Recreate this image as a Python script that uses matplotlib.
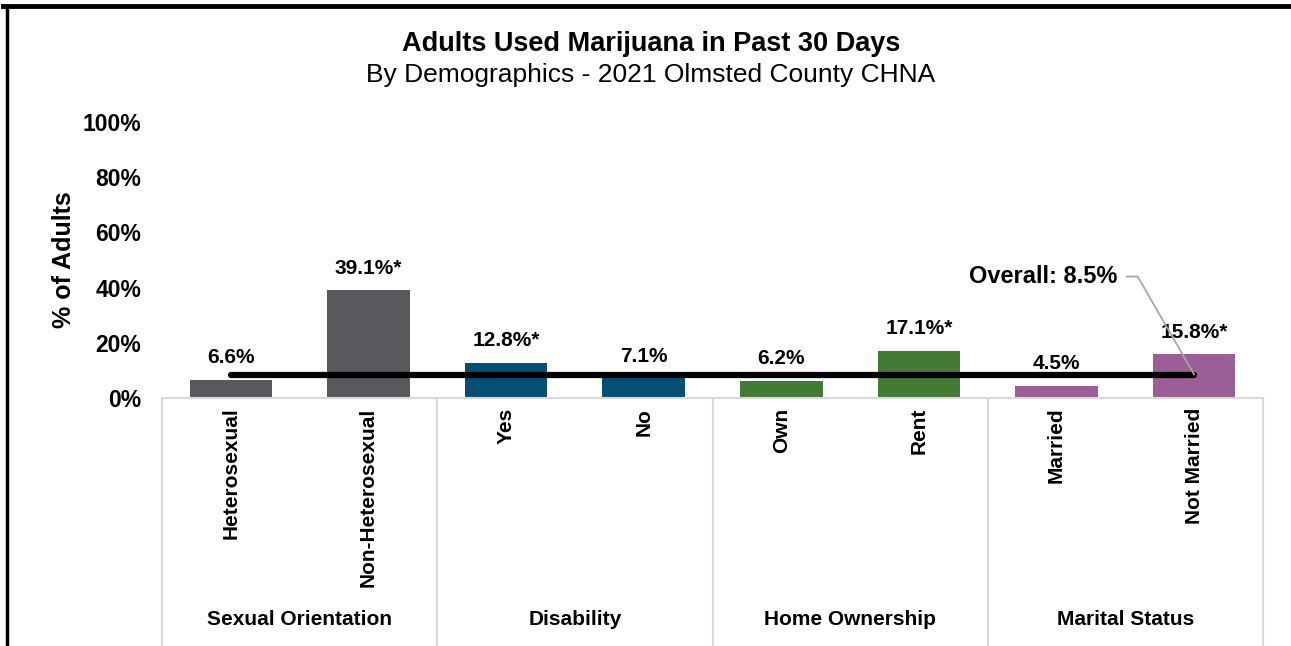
import numpy as np
import matplotlib.pyplot as plt
from matplotlib.lines import Line2D

plt.rcParams['font.family'] = ['Liberation Sans', 'DejaVu Sans']

# survey results, percent of adults
groups = ['Sexual Orientation', 'Disability', 'Home Ownership', 'Marital Status']
categories = ['Heterosexual', 'Non-Heterosexual', 'Yes', 'No',
              'Own', 'Rent', 'Married', 'Not Married']
values = [6.6, 39.1, 12.8, 7.1, 6.2, 17.1, 4.5, 15.8]
significant = [False, True, True, False, False, True, False, True]
overall = 8.5

group_colors = ['#59585d', '#054e74', '#437a36', '#9b5e96']
colors = [c for c in group_colors for _ in range(2)]

W, H = 1291, 646
fig = plt.figure(figsize=(W / 100, H / 100), dpi=100)
ax = fig.add_axes([162 / W, (H - 398) / H, (1263 - 162) / W, (398 - 122) / H])

x = np.arange(len(categories))
ax.bar(x, values, width=0.6, color=colors, zorder=2)

for xi, v, sig in zip(x, values, significant):
    label = f'{v:.1f}%' + ('*' if sig else '')
    ax.annotate(label, (xi, v), xytext=(0, 9), textcoords='offset points',
                ha='center', va='bottom', fontsize=15, fontweight='bold')

# overall rate line across all groups
ax.plot([x[0], x[-1]], [overall, overall], color='black', lw=4.5,
        solid_capstyle='round', zorder=3)
ax.annotate(f'Overall: {overall}%', xy=(x[-1], overall), xytext=(6.44, 44),
            ha='right', va='center', fontsize=17, fontweight='bold',
            arrowprops=dict(arrowstyle='-', color='#a6a6a6', lw=1.3,
                            shrinkA=5, shrinkB=0,
                            connectionstyle='angle,angleA=0,angleB=120,rad=0'))

ax.set_xlim(-0.5, len(categories) - 0.5)
ax.set_ylim(0, 100)
ax.set_yticks(np.arange(0, 101, 20))
ax.set_yticklabels([f'{t}%' for t in range(0, 101, 20)], fontsize=16.5, fontweight='bold')
ax.tick_params(axis='y', length=0, pad=15)
ax.set_xticks(x)
ax.set_xticklabels(categories, rotation=90, va='top', fontsize=15, fontweight='bold')
ax.tick_params(axis='x', length=0, pad=7)

for s in ['top', 'right', 'left']:
    ax.spines[s].set_visible(False)
ax.spines['bottom'].set_color('#d9d9d9')
ax.spines['bottom'].set_linewidth(1.5)

ax.set_ylabel('% of Adults', fontsize=18, fontweight='bold', labelpad=5)

# group separators and group names below the tick labels
trans = ax.get_xaxis_transform()
for b in np.arange(-0.5, len(categories), 2):
    ax.plot([b, b], [0, -0.9], color='#d9d9d9', lw=1.5, transform=trans, clip_on=False)
for i, g in enumerate(groups):
    ax.text(2 * i + 0.5, -0.804, g, transform=trans, ha='center', va='center',
            fontsize=15, fontweight='bold')

fig.text(651 / W, 1 - 44 / H, 'Adults Used Marijuana in Past 30 Days',
         ha='center', va='center', fontsize=19.5, fontweight='bold')
fig.text(651 / W, 1 - 75 / H, 'By Demographics - 2021 Olmsted County CHNA',
         ha='center', va='center', fontsize=19)

# black frame edges
fig.add_artist(Line2D([3 / W, 1], [1 - 6 / H, 1 - 6 / H], color='black', lw=3.5,
                      transform=fig.transFigure))
fig.add_artist(Line2D([7 / W, 7 / W], [0, 1 - 6 / H], color='black', lw=2.5,
                      transform=fig.transFigure))

fig.savefig('out.png', dpi=100)
